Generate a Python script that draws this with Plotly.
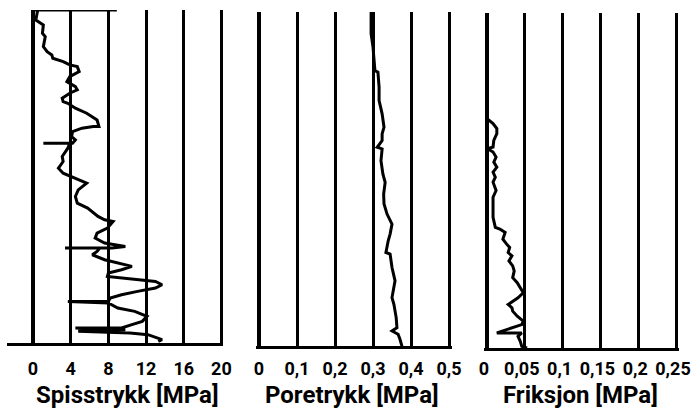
import plotly.graph_objects as go

# ---------------- data (depth in m, values in MPa) ----------------
qc_depth = [0.0, 0.6, 0.9, 1.4, 1.6, 2.2, 2.5, 2.7, 2.9, 3.1, 3.3, 3.4, 3.7, 4.0, 4.3, 4.6, 4.8, 5.0,
            5.3, 5.5, 5.6, 5.9, 6.2, 6.6, 7.0, 7.0, 7.1, 7.3, 7.6, 7.8, 8.0, 8.0, 8.0, 8.3, 8.8, 9.1,
            9.5, 9.8, 10.1, 10.4, 10.8, 11.2, 11.6, 11.9, 12.4, 12.6, 12.7, 13.1, 13.4, 13.7, 14.0,
            14.1, 14.2, 14.3, 14.3, 14.3, 14.5, 14.7, 15.0, 15.2, 15.4, 15.6, 15.8, 16.0, 16.1, 16.2,
            16.3, 16.5, 16.7, 16.9, 17.1, 17.3, 17.5, 17.5, 17.6, 17.9, 18.1, 18.4, 18.7, 18.9, 19.1,
            19.1, 19.2, 19.3, 19.4, 19.5, 19.8, 19.9]
qc_value = [0.5, 0.3, 1.1, 1.0, 1.3, 1.1, 1.5, 2.0, 2.1, 3.2, 3.9, 4.7, 4.9, 3.9, 3.6, 4.5, 4.7, 3.9,
            3.1, 3.2, 3.7, 4.5, 5.7, 6.8, 7.0, 6.4, 5.2, 4.2, 4.1, 4.5, 4.2, 1.1, 3.9, 3.7, 3.1, 3.2,
            2.7, 3.2, 4.5, 5.7, 4.8, 4.5, 4.7, 5.8, 6.9, 7.6, 8.5, 7.9, 6.8, 6.6, 7.6,
            9.0, 9.8, 8.4, 3.4, 7.1, 6.8, 6.3, 7.6, 9.0, 10.5, 9.4, 8.0, 7.9, 9.4, 11.1,
            13.0, 13.7, 13.0, 11.1, 9.4, 8.2, 8.0, 3.7, 8.0, 9.0, 10.8, 12.1, 11.6, 10.5, 9.4,
            4.5, 9.8, 4.8, 10.3, 12.2, 13.7, 13.3]

u_depth = [0.0, 1.3, 2.1, 3.0, 3.5, 3.6, 4.5, 5.3, 6.1, 6.9, 7.3, 7.7, 8.1, 8.2, 8.9, 9.7, 10.2,
           10.9, 11.5, 12.1, 12.7, 13.3, 13.7, 14.4, 14.5, 15.3, 16.1, 17.1, 17.5, 18.3, 18.9,
           19.1, 19.3, 19.6, 20.0, 20.3]
u_value = [0.295, 0.295, 0.300, 0.303, 0.305, 0.313, 0.316, 0.316, 0.324, 0.329, 0.324, 0.324,
           0.311, 0.324, 0.321, 0.326, 0.332, 0.328, 0.329, 0.337, 0.350, 0.345, 0.340, 0.334,
           0.345, 0.350, 0.358, 0.350, 0.355, 0.361, 0.363, 0.350, 0.366, 0.371, 0.376, 0.377]

fs_depth = [6.3, 6.6, 6.9, 7.2, 7.6, 8.0, 8.1, 8.3, 8.6, 8.9, 9.2, 9.5, 9.8, 10.1, 10.6, 11.0,
            11.4, 12.2, 12.8, 12.9, 13.1, 13.5, 13.8, 14.0, 14.3, 14.5, 14.8, 15.1, 15.4, 15.8,
            16.1, 16.4, 16.7, 17.0, 17.2, 17.4, 17.6, 17.8, 18.1, 18.4, 18.6, 19.1, 19.1, 19.3,
            19.6, 19.9, 20.0]
fs_value = [0.000, 0.008, 0.013, 0.013, 0.009, 0.008, 0.001, 0.008, 0.012, 0.009, 0.013, 0.008,
            0.011, 0.008, 0.012, 0.008, 0.008, 0.008, 0.011, 0.017, 0.024, 0.021, 0.026, 0.030,
            0.028, 0.033, 0.029, 0.034, 0.036, 0.034, 0.040, 0.044, 0.048, 0.041, 0.034, 0.028,
            0.033, 0.034, 0.040, 0.048, 0.046, 0.013, 0.046, 0.041, 0.044, 0.046, 0.053]

qc_ticks = [0, 4, 8, 12, 16, 20]
qc_labels = ["0", "4", "8", "12", "16", "20"]
u_ticks = [0, 0.1, 0.2, 0.3, 0.4, 0.5]
u_labels = ["0", "0,1", "0,2", "0,3", "0,4", "0,5"]
fs_ticks = [0, 0.05, 0.1, 0.15, 0.2, 0.25]
fs_labels = ["0", "0,05", "0,1", "0,15", "0,2", "0,25"]
titles = ["Spisstrykk [MPa]", "Poretrykk [MPa]", "Friksjon [MPa]"]
max_depth = 20
top_rule_end = 8.9  # MPa, top rule of first panel

# ---------------- layout helpers ----------------
W, H = 692, 410
FONT = "Roboto, DejaVu Sans"

def px_dom(a, b):
    return [a / W, b / W]

def py_dom(top, bottom):
    return [1 - bottom / H, 1 - top / H]

# panel geometry: (left px, right px, zero px, px per unit, top px, bottom px, ticklen, label shift)
panels = [
    (7, 223, 33, 9.42, 10, 343, 7, 0),
    (256, 452, 259, 380.0, 12, 346, 4, 0),
    (484, 679, 487, 756.0, 13, 348, 2, -3),
]

fig = go.Figure()
series = [(qc_value, qc_depth), (u_value, u_depth), (fs_value, fs_depth)]
for i, (xv, yv) in enumerate(series):
    fig.add_trace(go.Scatter(x=xv, y=yv, mode="lines",
                             line=dict(color="black", width=3),
                             xaxis=f"x{i + 1}" if i else "x",
                             yaxis=f"y{i + 1}" if i else "y",
                             showlegend=False, hoverinfo="skip"))

ticksets = [(qc_ticks, qc_labels), (u_ticks, u_labels), (fs_ticks, fs_labels)]
layout = {}
for i, (l, r, z, k, t, b, tl, sh) in enumerate(panels):
    tv, tt = ticksets[i]
    xname = "xaxis" if i == 0 else f"xaxis{i + 1}"
    yname = "yaxis" if i == 0 else f"yaxis{i + 1}"
    layout[xname] = dict(
        domain=px_dom(l, r), range=[(l - z) / k, (r - z) / k],
        anchor="y" if i == 0 else f"y{i + 1}",
        tickvals=tv, ticktext=tt, showgrid=True, gridcolor="black", gridwidth=3,
        zeroline=True, zerolinecolor="black", zerolinewidth=4,
        showline=True, linecolor="black", linewidth=3, mirror=False,
        ticks="outside", ticklen=tl, tickcolor="rgba(0,0,0,0)", ticklabelshift=sh,
        tickfont=dict(family=FONT, size=18, color="black", weight="bold"),
        ticklabeloverflow="allow", automargin=False, fixedrange=True)
    layout[yname] = dict(
        domain=py_dom(t, b), range=[max_depth, 0],
        anchor="x" if i == 0 else f"x{i + 1}",
        visible=False, showgrid=False, zeroline=False, fixedrange=True)

fig.update_layout(width=W, height=H, margin=dict(l=0, r=0, t=0, b=0),
                  paper_bgcolor="white", plot_bgcolor="white", **layout)

# top rule of first panel
fig.add_shape(type="line", xref="x", yref="y", x0=0, x1=top_rule_end, y0=0, y1=0,
              line=dict(color="black", width=3))

title_centers = [127, 352, 580]
for c, txt in zip(title_centers, titles):
    fig.add_annotation(x=c / W, y=1 - 395 / H, xref="paper", yref="paper",
                       text=txt, showarrow=False, xanchor="center", yanchor="middle",
                       font=dict(family=FONT, size=24, color="black", weight="bold"))

fig.write_html("out.html", config={"displayModeBar": False},
               post_script="document.body.style.margin='0';"
                           "document.body.style.overflow='hidden';")
